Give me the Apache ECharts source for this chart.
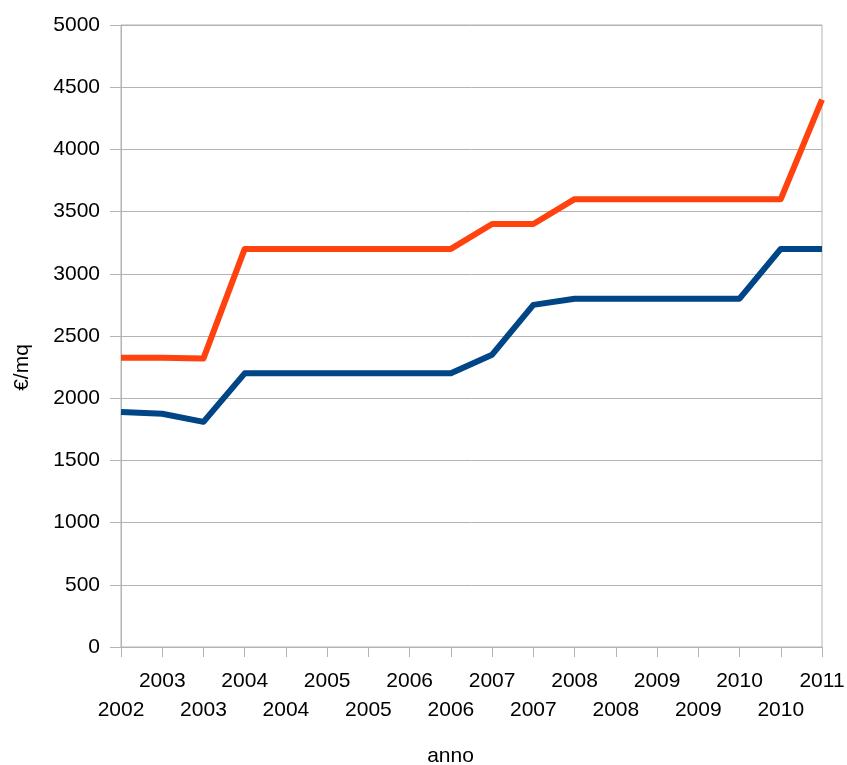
<!DOCTYPE html>
<html>
<head>
<meta charset="utf-8">
<script src="https://cdn.jsdelivr.net/npm/echarts@6/dist/echarts.min.js"></script>
<style>
  html, body { margin: 0; padding: 0; background: #fff; }
  #chart { width: 847px; height: 765px; }
</style>
</head>
<body>
<div id="chart"></div>
<script>
// Half-year steps along the x axis
const categories = ['2002', '2003', '2003', '2004', '2004', '2005', '2005', '2006', '2006',
                    '2007', '2007', '2008', '2008', '2009', '2009', '2010', '2010', '2011'];
// Price per square metre (€/mq)
const upperSeries = [2325, 2325, 2320, 3200, 3200, 3200, 3200, 3200, 3200,
                     3400, 3400, 3600, 3600, 3600, 3600, 3600, 3600, 4400];
const lowerSeries = [1890, 1875, 1810, 2200, 2200, 2200, 2200, 2200, 2200,
                     2350, 2750, 2800, 2800, 2800, 2800, 2800, 3200, 3200];
const yTicks = [0, 500, 1000, 1500, 2000, 2500, 3000, 3500, 4000, 4500, 5000];

const FONT = '"Liberation Sans", Arial, sans-serif';
const GRID_COLOR = '#b3b3b3';

const chart = echarts.init(document.getElementById('chart'));
chart.setOption({
  animation: false,
  backgroundColor: '#ffffff',
  grid: { left: 121, right: 25, top: 25, bottom: 118, containLabel: false,
          outerBoundsMode: 'none',
          show: true, borderColor: GRID_COLOR, borderWidth: 1 },
  xAxis: {
    type: 'category',
    data: categories,
    boundaryGap: false,
    name: 'anno',
    nameLocation: 'middle',
    nameGap: 99,
    nameTextStyle: { fontFamily: FONT, fontSize: 21, color: '#000', padding: [0, 42, 0, 0] },
    axisLine: { lineStyle: { color: GRID_COLOR, width: 1 } },
    axisTick: { show: true, length: 10, interval: 0, alignWithLabel: true,
                lineStyle: { color: GRID_COLOR } },
    axisLabel: {
      interval: 0,
      margin: 20,
      fontFamily: FONT,
      fontSize: 21,
      color: '#000',
      lineHeight: 29,
      // staggered labels: odd positions on the upper row, even on the lower
      formatter: (value, index) => (index % 2 === 1 ? value + '\n ' : ' \n' + value)
    },
    splitLine: { show: false }
  },
  yAxis: {
    type: 'value',
    min: yTicks[0],
    max: yTicks[yTicks.length - 1],
    interval: yTicks[1] - yTicks[0],
    name: '€/mq',
    nameLocation: 'middle',
    nameGap: 88,
    nameRotate: 90,
    nameTextStyle: { fontFamily: FONT, fontSize: 21, color: '#000', padding: [0, 63, 0, 0] },
    axisLine: { show: true, lineStyle: { color: GRID_COLOR, width: 1 } },
    axisTick: { show: true, length: 11, lineStyle: { color: GRID_COLOR } },
    axisLabel: { margin: 21, fontFamily: FONT, fontSize: 21, color: '#000',
                 formatter: (v) => String(v) },
    splitLine: { show: true, lineStyle: { color: GRID_COLOR, width: 1 } }
  },
  series: [
    {
      type: 'line',
      data: upperSeries,
      symbol: 'none',
      lineStyle: { color: '#ff420e', width: 6, join: 'round' },
      itemStyle: { color: '#ff420e' }
    },
    {
      type: 'line',
      data: lowerSeries,
      symbol: 'none',
      lineStyle: { color: '#004586', width: 6, join: 'round' },
      itemStyle: { color: '#004586' }
    }
  ]
});
</script>
</body>
</html>
